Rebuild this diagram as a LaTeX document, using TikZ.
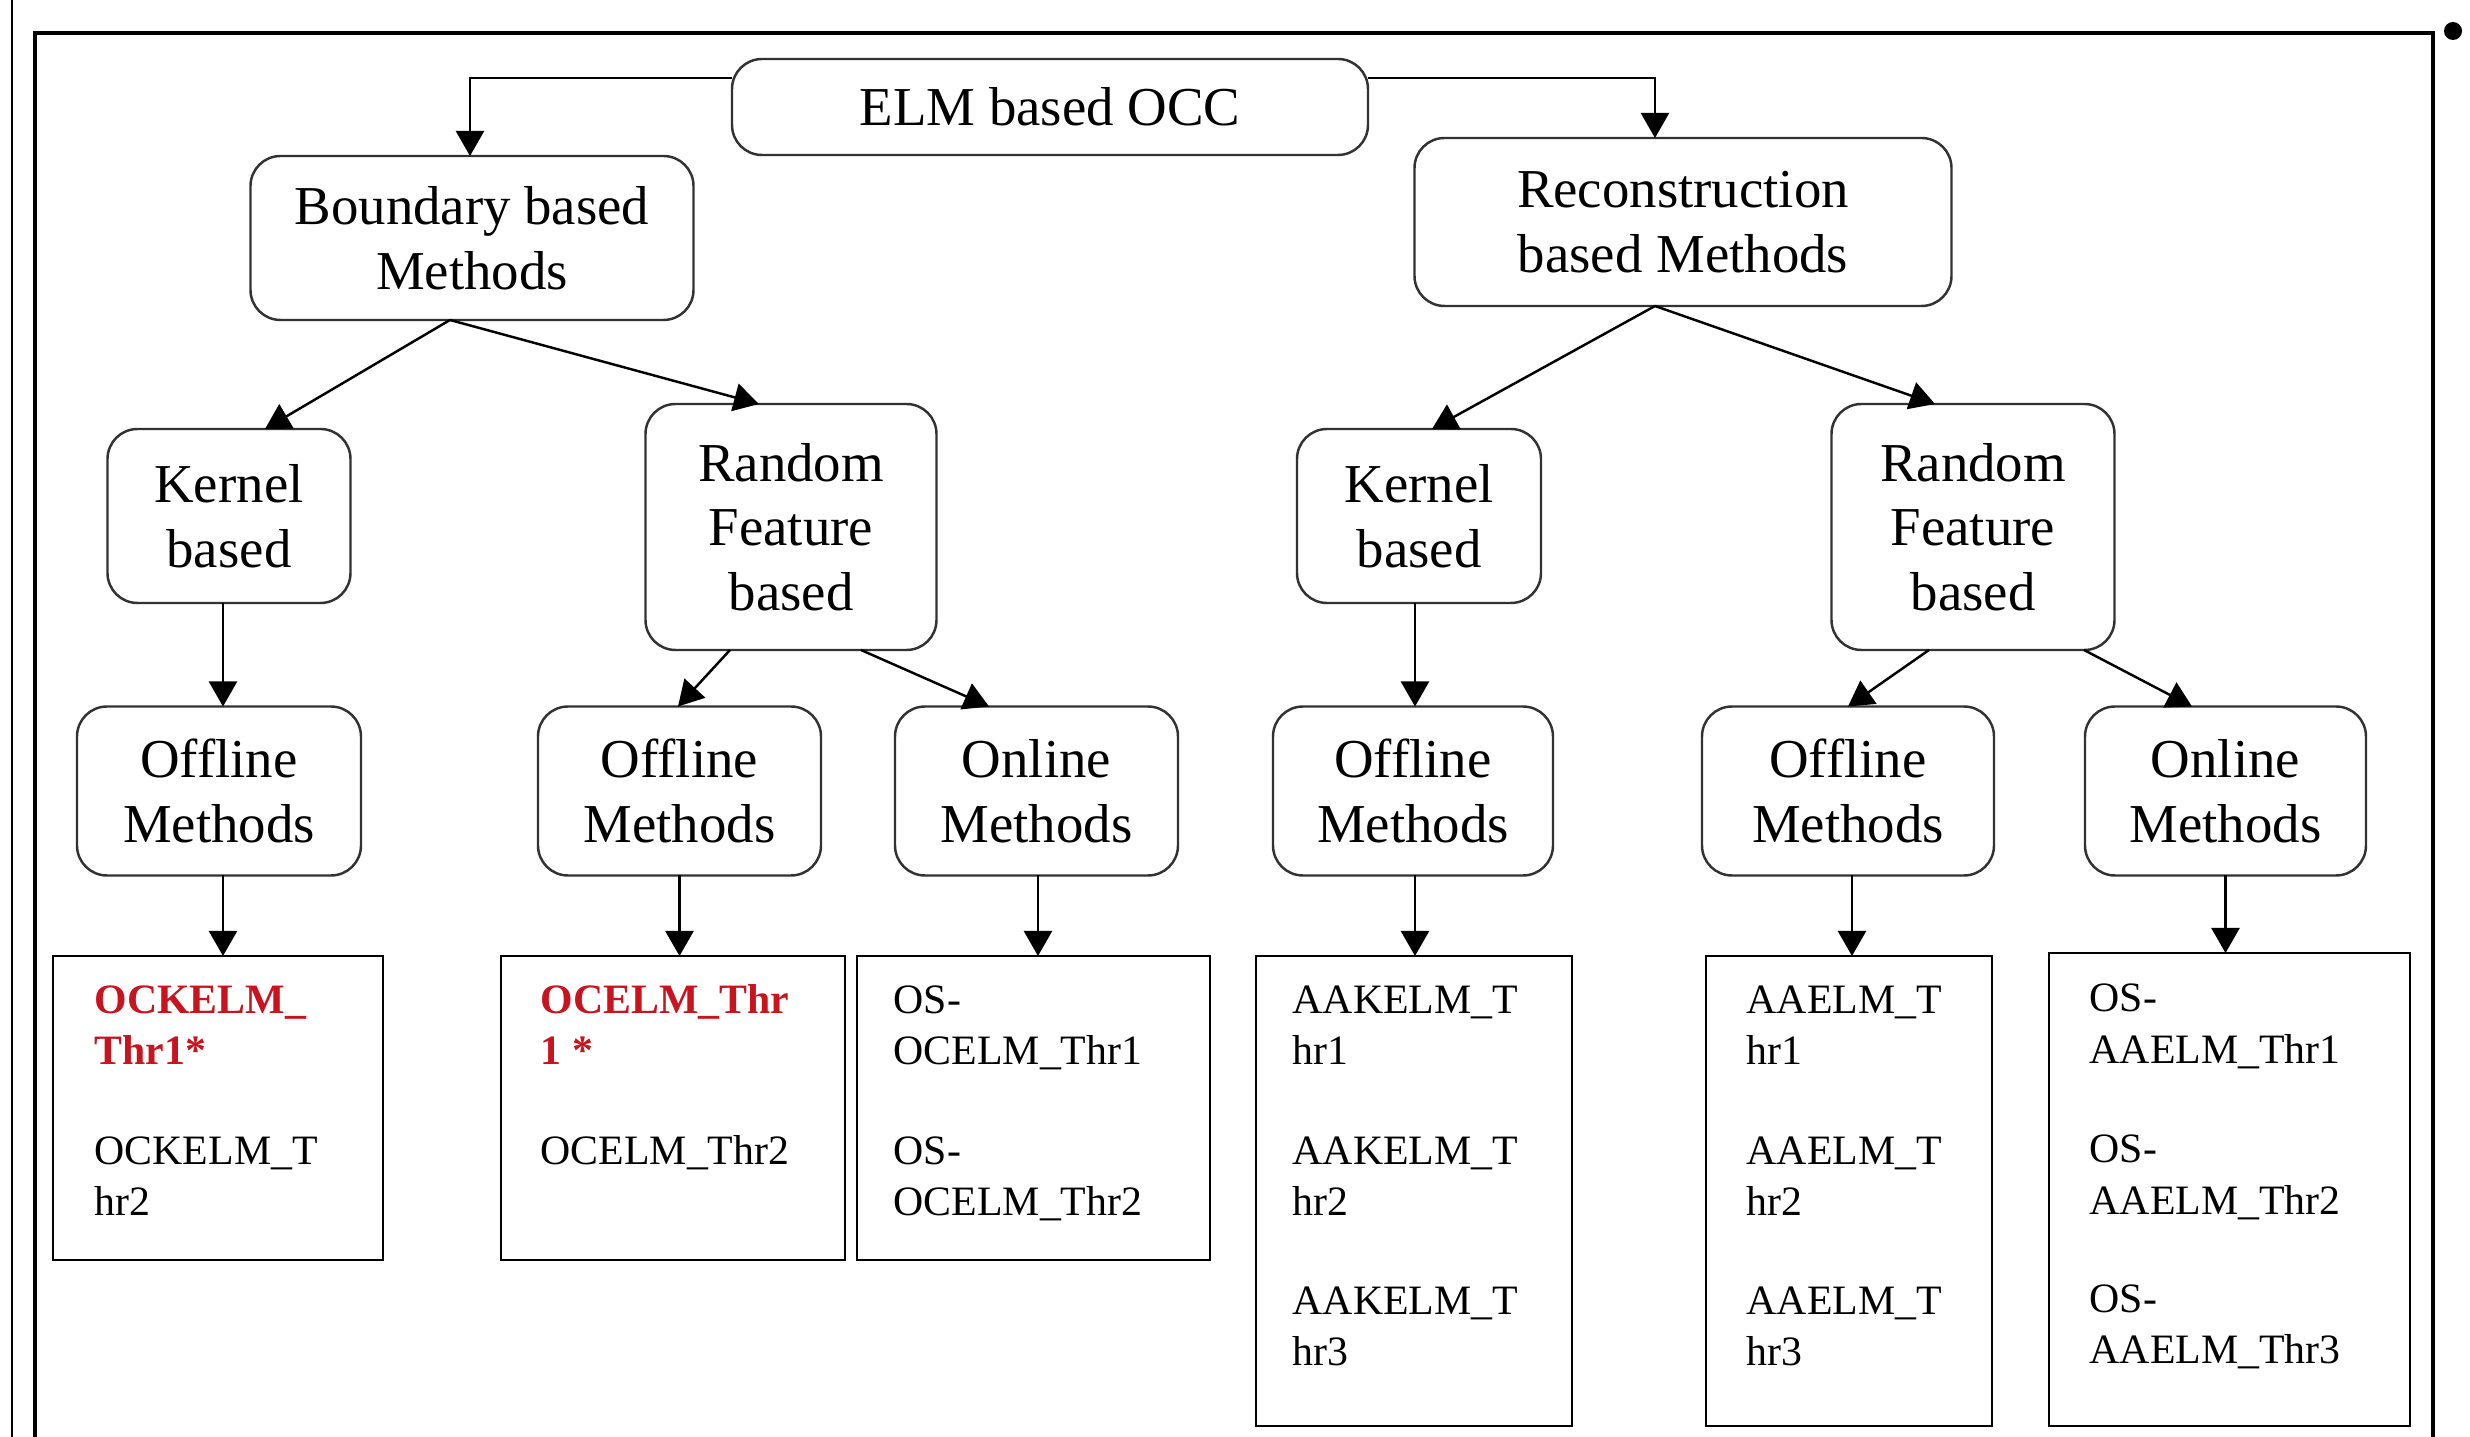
\documentclass[tikz,border=0pt]{standalone}
\usepackage{fontspec}
\setmainfont{Liberation Serif}
\usetikzlibrary{calc,arrows.meta}
\definecolor{redtxt}{RGB}{200,20,30}
\definecolor{boxline}{RGB}{50,50,50}
\newcommand\us{\char95\relax}
\begin{document}
\begin{tikzpicture}[x=0.1mm,y=-0.1mm,
  rbox/.style={draw=boxline,line width=0.7pt,rounded corners=3mm,inner sep=0pt,outer sep=0pt,align=center,font=\fontsize{15.6pt}{18.4pt}\selectfont},
  leaf/.style={draw=black,line width=0.75pt,inner sep=0pt,outer sep=0pt},
  ltxt/.style={anchor=base west,inner sep=0pt,font=\fontsize{11.9pt}{14.2pt}\selectfont},
  hl/.style={text=redtxt,font=\fontsize{11.9pt}{14.2pt}\selectfont\bfseries},
  arr/.style={line width=0.7pt,-{Triangle[length=2.5mm,width=2.8mm]}},
  framel/.style={line width=0.9pt}
]
\useasboundingbox (0,0) rectangle (2470,1437);
\fill[white] (0,0) rectangle (2470,1437);
\draw[line width=0.65pt] (12,0) -- (12,1437);
\draw[framel] (35,1437) -- (35,33) -- (2433,33) -- (2433,1437);
\fill (2453,31) circle (0.9mm);

% rounded boxes
\node[rbox,minimum width=63.6mm,minimum height=9.6mm] (elm) at (1050,107) {ELM based OCC};
\node[rbox,minimum width=44.3mm,minimum height=16.4mm] (bnd) at (472,238) {Boundary based\\Methods};
\node[rbox,minimum width=53.7mm,minimum height=16.8mm] (rec) at (1683,222) {Reconstruction\\based Methods};
\node[rbox,minimum width=24.3mm,minimum height=17.4mm] (kl) at (229,516) {Kernel\\based};
\node[rbox,minimum width=29.1mm,minimum height=24.6mm] (rl) at (791,527) {Random\\Feature\\based};
\node[rbox,minimum width=24.4mm,minimum height=17.4mm] (kr) at (1419,516) {Kernel\\based};
\node[rbox,minimum width=28.3mm,minimum height=24.6mm] (rr) at (1973,527) {Random\\Feature\\based};
\node[rbox,minimum width=28.4mm,minimum height=16.9mm] (off1) at (219,791) {Offline\\Methods};
\node[rbox,minimum width=28.3mm,minimum height=16.9mm] (off2) at (679.5,791) {Offline\\Methods};
\node[rbox,minimum width=28.3mm,minimum height=16.9mm] (on1) at (1036.5,791) {Online\\Methods};
\node[rbox,minimum width=28.0mm,minimum height=16.9mm] (off3) at (1413,791) {Offline\\Methods};
\node[rbox,minimum width=29.2mm,minimum height=16.9mm] (off4) at (1848,791) {Offline\\Methods};
\node[rbox,minimum width=28.1mm,minimum height=16.9mm] (on2) at (2225.5,791) {Online\\Methods};

% leaf boxes
\node[leaf,minimum width=33.0mm,minimum height=30.4mm] (lf1) at (218,1108) {};
\node[leaf,minimum width=34.4mm,minimum height=30.4mm] (lf2) at (673,1108) {};
\node[leaf,minimum width=35.3mm,minimum height=30.4mm] (lf3) at (1033.5,1108) {};
\node[leaf,minimum width=31.6mm,minimum height=47.0mm] (lf4) at (1414,1191) {};
\node[leaf,minimum width=28.6mm,minimum height=47.0mm] (lf5) at (1849,1191) {};
\node[leaf,minimum width=36.1mm,minimum height=47.3mm] (lf6) at (2229.5,1189.5) {};

% leaf texts
\node[ltxt,hl] (t11) at (94,1014) {OCKELM\us};
\node[ltxt,hl] (t12) at (94,1065) {Thr1*};
\node[ltxt] (t13) at (94,1165) {OCKELM\us T};
\node[ltxt] (t14) at (94,1216) {hr2};

\node[ltxt,hl] (t21) at (540,1014) {OCELM\us Thr};
\node[ltxt,hl] (t22) at (540,1065) {1 *};
\node[ltxt] (t23) at (540,1165) {OCELM\us Thr2};

\node[ltxt] (t31) at (893,1014) {OS-};
\node[ltxt] (t32) at (893,1065) {OCELM\us Thr1};
\node[ltxt] (t33) at (893,1165) {OS-};
\node[ltxt] (t34) at (893,1216) {OCELM\us Thr2};

\node[ltxt] (t41) at (1292,1014) {AAKELM\us T};
\node[ltxt] (t42) at (1292,1065) {hr1};
\node[ltxt] (t43) at (1292,1165) {AAKELM\us T};
\node[ltxt] (t44) at (1292,1216) {hr2};
\node[ltxt] (t45) at (1292,1315) {AAKELM\us T};
\node[ltxt] (t46) at (1292,1366) {hr3};

\node[ltxt] (t51) at (1746,1014) {AAELM\us T};
\node[ltxt] (t52) at (1746,1065) {hr1};
\node[ltxt] (t53) at (1746,1165) {AAELM\us T};
\node[ltxt] (t54) at (1746,1216) {hr2};
\node[ltxt] (t55) at (1746,1315) {AAELM\us T};
\node[ltxt] (t56) at (1746,1366) {hr3};

\node[ltxt] (t61) at (2089,1012) {OS-};
\node[ltxt] (t62) at (2089,1064) {AAELM\us Thr1};
\node[ltxt] (t63) at (2089,1163) {OS-};
\node[ltxt] (t64) at (2089,1215) {AAELM\us Thr2};
\node[ltxt] (t65) at (2089,1313) {OS-};
\node[ltxt] (t66) at (2089,1364) {AAELM\us Thr3};

% connectors
\draw[arr] ($(elm.west)+(0,-29)$) -| ($(bnd.north)+(-2,0)$);
\draw[arr] ($(elm.east)+(0,-29)$) -| ($(rec.north)+(-28,0)$);
\draw[arr] ($(bnd.south)+(-22,0)$) -- ($(kl.north)+(36,0)$);
\draw[arr] ($(bnd.south)+(-22,0)$) -- ($(rl.north)+(-32,0)$);
\draw[arr] ($(rec.south)+(-28,0)$) -- ($(kr.north)+(13,0)$);
\draw[arr] ($(rec.south)+(-28,0)$) -- ($(rr.north)+(-38,0)$);
\draw[arr] ($(kl.south)+(-6,0)$) -- ($(off1.north)+(4,0)$);
\draw[arr] ($(rl.south)+(-61,0)$) -- ($(off2.north)+(-1.5,0)$);
\draw[arr] ($(rl.south)+(70,0)$) -- ($(on1.north)+(-47.5,0)$);
\draw[arr] ($(kr.south)+(-4,0)$) -- ($(off3.north)+(2,0)$);
\draw[arr] ($(rr.south)+(-44,0)$) -- (off4.north);
\draw[arr] ($(rr.south)+(111,0)$) -- ($(on2.north)+(-33.5,0)$);
\draw[arr] ($(off1.south)+(4,0)$) -- ($(lf1.north)+(5,0)$);
\draw[arr] (off2.south) -- ($(lf2.north)+(6.5,0)$);
\draw[arr] ($(on1.south)+(1.5,0)$) -- ($(lf3.north)+(4.5,0)$);
\draw[arr] ($(off3.south)+(2,0)$) -- ($(lf4.north)+(1,0)$);
\draw[arr] ($(off4.south)+(4,0)$) -- ($(lf5.north)+(3,0)$);
\draw[arr] (on2.south) -- ($(lf6.north)+(-4,0)$);
\end{tikzpicture}
\end{document}
